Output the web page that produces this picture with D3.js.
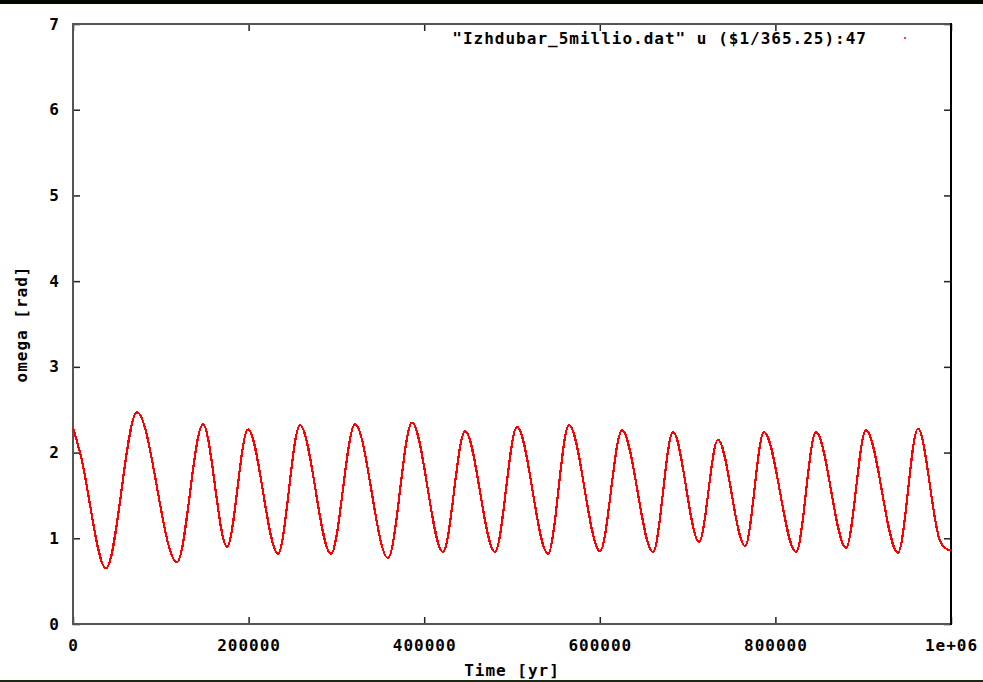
<!DOCTYPE html>
<html>
<head>
<meta charset="utf-8">
<script src="https://cdn.jsdelivr.net/npm/d3@7"></script>
<style>
  body { margin: 0; background: #fff; }
  svg { display: block; }
  text { font-family: "DejaVu Sans Mono", monospace; font-weight: bold; font-size: 16px; letter-spacing: 1px; fill: #000; }
</style>
</head>
<body>
<svg class="chart"></svg>
<script>
// time in years, omega in rad (turning points)
const timeYr = [0, 8000, 37600, 72900, 118400, 148000, 175400, 199300, 233500, 258500, 293800,
  321200, 358800, 386100, 421400, 446500, 480600, 505700, 541000, 564900, 600200,
  625300, 660600, 683400, 713000, 734600, 765400, 787000, 823500, 846200, 880400,
  903200, 939600, 962400, 987500, 996000, 1000000];
const omegaRad = [2.29, 2.0, 0.65, 2.47, 0.72, 2.33, 0.90, 2.27, 0.82, 2.32, 0.82,
  2.33, 0.77, 2.35, 0.84, 2.25, 0.84, 2.30, 0.82, 2.32, 0.85,
  2.26, 0.84, 2.24, 0.96, 2.15, 0.91, 2.24, 0.84, 2.24, 0.89,
  2.26, 0.83, 2.28, 0.97, 0.87, 0.86];
const xTicks = [0, 200000, 400000, 600000, 800000, 1000000];
const yTicks = [0, 1, 2, 3, 4, 5, 6, 7];
const legendLabel = '"Izhdubar_5millio.dat" u ($1/365.25):47';

let margin = { top: 24, right: 32, bottom: 58, left: 73 };
let W = 983, H = 682;
let width = W - margin.left - margin.right;
let height = H - margin.top - margin.bottom;

let svg = d3.select('.chart').attr('width', W).attr('height', H);

// window bars of the screenshot
svg.append('rect').attr('x', 0).attr('y', 0).attr('width', W).attr('height', 4).attr('fill', '#020800');
svg.append('rect').attr('x', 0).attr('y', 680).attr('width', W).attr('height', 2).attr('fill', '#1a2a12');

let x = d3.scaleLinear().domain([0, 1000000]).range([0, width]);
let y = d3.scaleLinear().domain([0, 7]).range([height, 0]);

let g = svg.append('g').attr('transform', 'translate(' + margin.left + ',' + margin.top + ')');

let fmtX = d => d === 1000000 ? '1e+06' : String(d);

let axBottom = g.append('g').attr('transform', 'translate(0,' + height + ')')
  .call(d3.axisBottom(x).tickValues(xTicks).tickFormat(fmtX).tickSize(-7).tickPadding(16));
let axTop = g.append('g')
  .call(d3.axisTop(x).tickValues(xTicks).tickFormat('').tickSize(-7));
let axLeft = g.append('g')
  .call(d3.axisLeft(y).tickValues(yTicks).tickFormat(d3.format('d')).tickSize(-7).tickPadding(13));
let axRight = g.append('g').attr('transform', 'translate(' + width + ',0)')
  .call(d3.axisRight(y).tickValues(yTicks).tickFormat('').tickSize(-7));

[axBottom, axTop, axLeft, axRight].forEach(a => {
  a.select('.domain').remove();
  a.selectAll('line').attr('stroke', '#222').attr('stroke-width', 1.5);
  a.selectAll('text').attr('font-family', null).attr('font-size', null).attr('fill', '#000');
});

// frame
g.append('path')
  .attr('d', 'M' + width + ',0H0V' + height + 'H' + width)
  .attr('fill', 'none').attr('stroke', '#555').attr('stroke-width', 2);
g.append('line')
  .attr('x1', width).attr('x2', width).attr('y1', -1).attr('y2', height + 1)
  .attr('stroke', '#000').attr('stroke-width', 2);

let data = timeYr.map((t, i) => [t, omegaRad[i]]);
let line = d3.line().x(d => x(d[0])).y(d => y(d[1])).curve(d3.curveMonotoneX);

g.append('path').datum(data)
  .attr('d', line)
  .attr('fill', 'none')
  .attr('stroke', '#ff0000')
  .attr('stroke-width', 2.2)
  .attr('shape-rendering', 'crispEdges');

// key
svg.append('text').attr('x', 867).attr('y', 44).attr('text-anchor', 'end').text(legendLabel);
svg.append('rect').attr('x', 904).attr('y', 37).attr('width', 2).attr('height', 2).attr('fill', '#ff4040');

// axis titles
svg.append('text').attr('x', margin.left + width / 2).attr('y', 676)
  .attr('text-anchor', 'middle').text('Time [yr]');
svg.append('text').attr('transform', 'translate(27,' + (margin.top + height / 2) + ') rotate(-90)')
  .attr('text-anchor', 'middle').text('omega [rad]');
</script>
</body>
</html>
